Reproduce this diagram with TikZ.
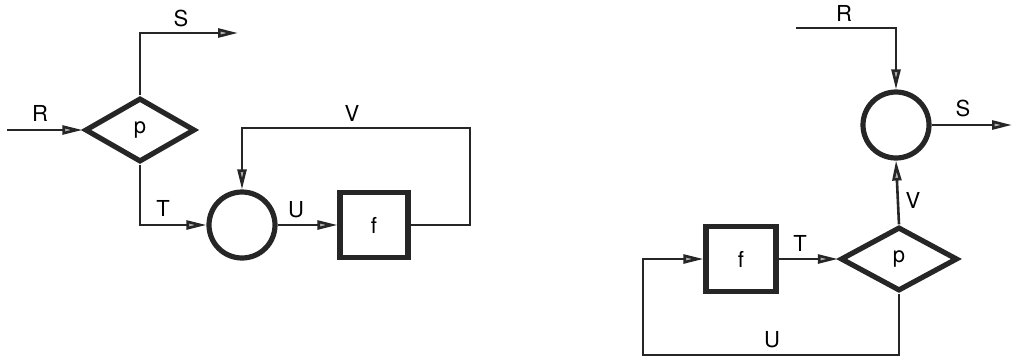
\documentclass[tikz,border=0pt]{standalone}
\usepackage{fontspec}
\setmainfont{TeX Gyre Heros}
\usetikzlibrary{shapes.geometric,arrows.meta}
\begin{document}
\begin{tikzpicture}[x=0.5pt,y=-0.5pt,
  every node/.style={font=\fontsize{11}{13}\selectfont},
  conn/.style={line width=1.3pt,draw=black!85,-{Triangle[length=10pt,width=4.5pt,fill=gray!60]}},
  dec/.style={draw=black!85,diamond,line width=2.6pt,inner sep=0pt,minimum width=#1,minimum height=32pt},
  junc/.style={draw=black!85,circle,line width=2.6pt,inner sep=0pt,minimum size=33pt},
  fbox/.style={draw=black!85,rectangle,line width=2.6pt,inner sep=0pt,minimum width=34pt,minimum height=32.5pt},
  lab/.style={inner sep=0pt}]
\useasboundingbox (0,0) rectangle (1013,359);
% ---- left diagram
\node[dec=55pt] (d1) at (140,130) {p};
\node[junc] (c1) at (242,225) {};
\node[fbox] (f1) at (374,225) {f};
\coordinate (r1) at (7,130);
\coordinate (s1a) at (140,33);
\coordinate (s1) at (238,33);
\coordinate (t1) at (140,225);
\coordinate (v1a) at (470,225);
\coordinate (v1b) at (470,128);
\coordinate (v1c) at (242,128);
\draw[conn] (r1) -- (d1.west);
\draw[conn] (d1.north) -- (s1a) -- (s1);
\draw[conn] (d1.south) -- (t1) -- (c1.west);
\draw[conn] (c1.east) -- (f1.west);
\draw[conn] (f1.east) -- (v1a) -- (v1b) -- (v1c) -- (c1.north);
\node[lab] (lr1) at (40,113) {R};
\node[lab] (ls1) at (181,18) {S};
\node[lab] (lt1) at (163,208) {T};
\node[lab] (lu1) at (296,210) {U};
\node[lab] (lv1) at (352,113) {V};
% ---- right diagram
\node[junc] (c2) at (896,125) {};
\node[dec=58.5pt] (d2) at (899,259) {p};
\node[fbox,minimum width=35pt] (f2) at (741,259) {f};
\coordinate (r2) at (796,28);
\coordinate (r2a) at (896,28);
\coordinate (s2) at (1012,125);
\coordinate (u2a) at (899,355);
\coordinate (u2b) at (643,355);
\coordinate (u2c) at (643,259);
\draw[conn] (r2) -- (r2a) -- (c2.north);
\draw[conn] (c2.east) -- (s2);
\draw[conn] (d2.north) -- (c2.south);
\draw[conn] (f2.east) -- (d2.west);
\draw[conn] (d2.south) -- (u2a) -- (u2b) -- (u2c) -- (f2.west);
\node[lab] (lr2) at (844,13) {R};
\node[lab] (ls2) at (963,108) {S};
\node[lab] (lv2) at (913,200) {V};
\node[lab] (lt2) at (800,243) {T};
\node[lab] (lu2) at (772,340) {U};
\end{tikzpicture}
\end{document}
